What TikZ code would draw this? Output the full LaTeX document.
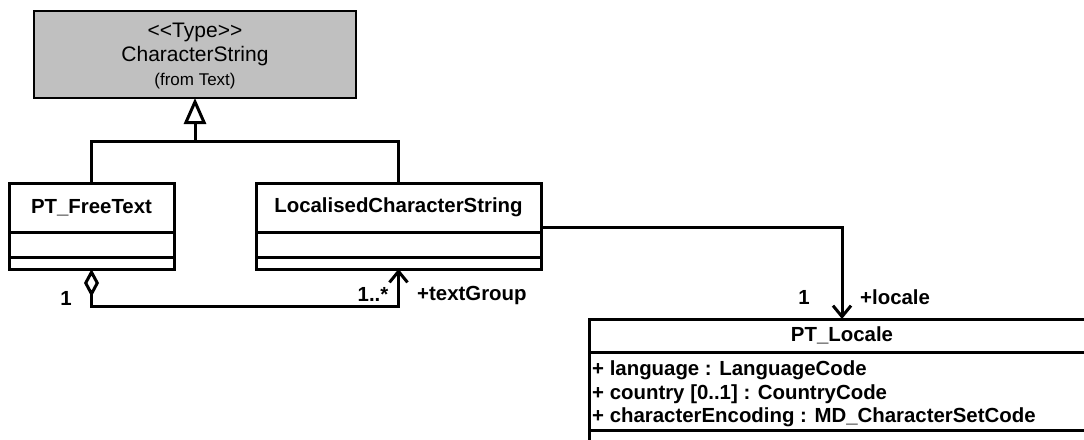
\documentclass[tikz,border=0pt]{standalone}
\usepackage{fontspec}
\setmainfont{Liberation Sans}
\usetikzlibrary{arrows.meta}
\definecolor{typegray}{HTML}{C0C0C0}
\begin{document}
\begin{tikzpicture}[x=1pt,y=-1pt,
  box/.style={draw, line width=3pt, inner sep=0pt, outer sep=0pt, anchor=north west},
  typebox/.style={box, line width=2pt, fill=typegray},
  reg/.style={font=\fontsize{21}{25}\selectfont, inner sep=0pt},
  small/.style={font=\fontsize{17}{20}\selectfont, inner sep=0pt},
  bold/.style={font=\fontsize{20.4}{24}\selectfont\bfseries, inner sep=0pt},
  attr/.style={bold, anchor=west},
  conn/.style={line width=3pt},
  gen/.style={conn, -{Triangle[open, length=26pt, width=22pt]}},
  nav/.style={conn, -{Straight Barb[length=11pt, width=18pt]}},
  agg/.style={conn, {Diamond[open, length=28pt, width=15pt]}-{Straight Barb[length=11pt, width=18pt]}}
]
\useasboundingbox (0,0) rectangle (1084,439);
\clip (0,0) rectangle (1084,439);

% CharacterString
\node[typebox, minimum width=322pt, minimum height=87pt] (cs) at (34,11) {};
\node[reg] (cstype) at (195,32) {<\kern0pt<Type>\kern0pt>};
\node[reg] (csname) at (195,56) {CharacterString};
\node[small] (csfrom) at (195,81) {(from Text)};

% PT_FreeText
\node[box, minimum width=165pt, minimum height=49pt] (ft) at (9,183) {};
\node[bold] (ftlabel) at (ft.center) {PT\_FreeText};
\node[box, minimum width=165pt, minimum height=25pt] (ftattr) at (9,232) {};
\node[box, minimum width=165pt, minimum height=12pt] (ftop) at (9,257) {};

% LocalisedCharacterString
\node[box, minimum width=285pt, minimum height=49pt] (lcs) at (256,183) {};
\node[bold] (lcslabel) at (lcs.center) {LocalisedCharacterString};
\node[box, minimum width=285pt, minimum height=25pt] (lcsattr) at (256,232) {};
\node[box, minimum width=285pt, minimum height=12pt] (lcsop) at (256,257) {};

% PT_Locale
\node[box, minimum width=506pt, minimum height=33pt] (loc) at (589,319) {};
\node[bold] (loclabel) at (loc.center) {PT\_Locale};
\node[box, minimum width=506pt, minimum height=78pt] (locattr) at (589,352) {};
\node[box, minimum width=506pt, minimum height=30pt] (locop) at (589,430) {};
\node[attr] (a1) at (592,370) {+ language : LanguageCode};
\node[attr] (a2) at (592,394) {+ country [0..1] : CountryCode};
\node[attr] (a3) at (592,417) {+ characterEncoding : MD\_CharacterSetCode};

% generalization
\coordinate (g) at (195,141);
\draw[conn] (ft.north) |- (g) -| (lcs.north);
\draw[gen] (g) -- (cs.south);

% aggregation
\coordinate (p1) at (ftop.south |- 0,306);
\coordinate (p2) at (lcsop.south |- 0,306);
\draw[agg] (ftop.south) -- (p1) -- (p2) -- (lcsop.south);
\node[bold] (m1) at (66,298) {1};
\node[bold] (m2) at (373,294) {1..*};
\node[bold, anchor=west] (r1) at (417,295) {+textGroup};

% association to PT_Locale
\coordinate (q) at (loc.north |- 0,227);
\draw[nav] (lcs.east |- q) -- (q) -- (loc.north);
\node[bold] (m3) at (804,297) {1};
\node[bold, anchor=west] (r2) at (860,297) {+locale};
\end{tikzpicture}
\end{document}
